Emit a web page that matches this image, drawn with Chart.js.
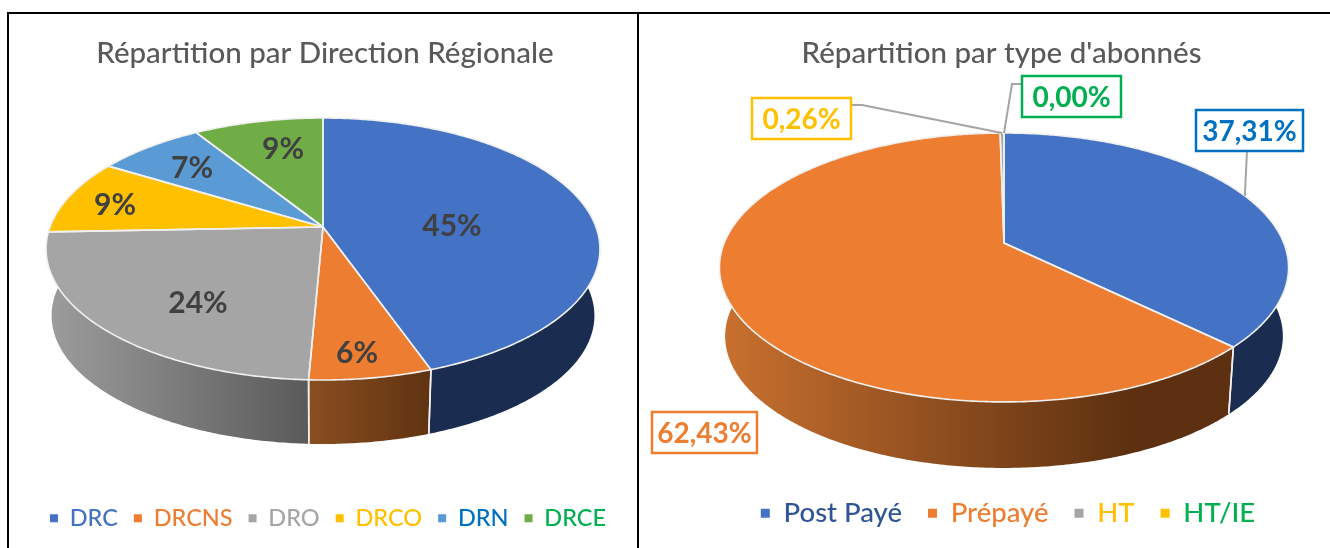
<!DOCTYPE html>
<html><head><meta charset="utf-8">
<script src="https://cdn.jsdelivr.net/npm/chart.js@4/dist/chart.umd.js"></script>
<style>
html,body{margin:0;padding:0;background:#fff;width:1330px;height:548px;overflow:hidden}
.line{position:absolute;background:#000}
canvas{position:absolute;top:0}
</style></head><body>
<div class="line" style="left:7px;top:12px;width:1323px;height:2px"></div>
<div class="line" style="left:7px;top:12px;width:2px;height:536px"></div>
<div class="line" style="left:637px;top:12px;width:2px;height:536px"></div>
<canvas id="c1" width="650" height="548" style="left:0"></canvas>
<canvas id="c2" width="690" height="548" style="left:640px"></canvas>
<script>
const FONT = 'Lato, "Open Sans", sans-serif';

// ---- data ----
const regionCategories = ['DRC','DRCNS','DRO','DRCO','DRN','DRCE'];
const regionValues     = [44.6, 6.1, 23.7, 9.3, 7.4, 8.9];
const regionColors     = ['#4472C4','#ED7D31','#A5A5A5','#FFC000','#5B9BD5','#70AD47'];
const regionText       = ['#4472C4','#ED7D31','#A5A5A5','#FFC000','#0070C0','#00B050'];

const typeCategories = ['Post Payé','Prépayé','HT','HT/IE'];
const typeValues     = [37.31, 62.43, 0.26, 0.00];
const typeColors     = ['#4472C4','#ED7D31','#A5A5A5','#FFC000'];
const typeText       = ['#2F5597','#ED7D31','#FFC000','#00B050'];

// ---- look ----
const regionSides = [['#1A2D50','#1A2D50'],['#8A4E20','#5F3311'],['#9C9C9C','#5A5A5A'],['#FFC000','#FFC000'],['#5B9BD5','#5B9BD5'],['#70AD47','#70AD47']];
const typeSides   = [['#1A2D50','#1A2D50'],['#C8702F','#5C3010'],['#A5A5A5','#A5A5A5'],['#FFC000','#FFC000']];
const regionLabelPos = [[452,226],[357,353],[198,303],[115,205],[192,168],[283,149]];
const typeLabelBoxes = [
  {x:1196,y:110,w:107,h:41,color:'#0070C0',path:[[1247,151]]},
  {x:652,y:412,w:105,h:41,color:'#ED7D31',path:null},
  {x:752,y:98,w:99,h:41,color:'#FFC000',path:[[851,105],[862,105]]},
  {x:1022,y:76,w:99,h:41,color:'#00B050',path:[[1022,84],[1012,84]]}
];

function pie3dPlugin(geo){
  // perspective view of a flat disc: v>0 is nearer to the viewer
  const top = (a)=>{
    const u=Math.cos(a), v=Math.sin(a), w=1-geo.q*v;
    return [geo.cx+geo.b*u/w, geo.cy+geo.a*v/w];
  };
  const low = (a)=>{
    const p=top(a);
    return [geo.cx+geo.s*(p[0]-geo.cx), geo.ey2+geo.s*(p[1]-geo.ey)];
  };
  const steps=(s,e)=>Math.max(2,Math.ceil((e-s)/0.01));
  const WALL_FROM=-0.1, WALL_TO=Math.PI+0.1;
  return {
    id:'pie3d',
    beforeDraw(chart){
      const l=chart.legend;
      if(l && !l.$wrapped){
        const d=l.draw.bind(l), dx=geo.legendDx||0;
        l.draw=function(){chart.ctx.save();chart.ctx.translate(dx,0);d();chart.ctx.restore();};
        l.$wrapped=true;
      }
    },
    beforeDatasetDraw(chart,args){
      const ctx=chart.ctx, els=args.meta.data;
      ctx.save();
      ctx.lineJoin='round';
      // side walls: only the near half of the disc shows a wall
      els.forEach((el,i)=>{
        let s=Math.max(el.startAngle,WALL_FROM), e=el.endAngle;
        if(e-s<=0 || s>Math.PI-0.2) return;
        e = e>Math.PI-0.2 ? WALL_TO : e;
        const n=steps(s,e);
        ctx.beginPath();
        for(let k=0;k<=n;k++){const p=top(s+(e-s)*k/n); k?ctx.lineTo(p[0],p[1]):ctx.moveTo(p[0],p[1]);}
        for(let k=n;k>=0;k--){const p=low(s+(e-s)*k/n); ctx.lineTo(p[0],p[1]);}
        ctx.closePath();
        const g=ctx.createLinearGradient(geo.grad[i][0]-geo.ox,0,geo.grad[i][1]-geo.ox,0);
        g.addColorStop(0,geo.sides[i][0]); g.addColorStop(1,geo.sides[i][1]);
        ctx.fillStyle=g; ctx.fill();
      });
      // wall separators
      els.forEach(el=>{
        [el.startAngle,el.endAngle].forEach(a=>{
          if(Math.sin(a)<=0.05) return;
          const p=top(a),q=low(a);
          ctx.beginPath();ctx.moveTo(p[0],p[1]);ctx.lineTo(q[0],q[1]);
          ctx.strokeStyle=el.options.borderColor;ctx.lineWidth=el.options.borderWidth;ctx.stroke();
        });
      });
      // top faces
      els.forEach(el=>{
        const s=el.startAngle,e=el.endAngle; if(e-s<=0) return;
        const n=steps(s,e);
        ctx.beginPath();ctx.moveTo(geo.cx,geo.cy);
        for(let k=0;k<=n;k++){const p=top(s+(e-s)*k/n);ctx.lineTo(p[0],p[1]);}
        ctx.closePath();
        ctx.fillStyle=el.options.backgroundColor;ctx.fill();
      });
      els.forEach(el=>{
        const s=el.startAngle,e=el.endAngle; if(e-s<=0) return;
        const n=steps(s,e);
        ctx.beginPath();ctx.moveTo(geo.cx,geo.cy);
        for(let k=0;k<=n;k++){const p=top(s+(e-s)*k/n);ctx.lineTo(p[0],p[1]);}
        ctx.closePath();
        ctx.strokeStyle=el.options.borderColor;ctx.lineWidth=el.options.borderWidth;ctx.stroke();
      });
      ctx.restore();
      return false;
    },
    afterDatasetsDraw(chart){
      const ctx=chart.ctx, els=chart.getDatasetMeta(0).data, vals=chart.data.datasets[0].data;
      ctx.save();
      ctx.textAlign='center';ctx.textBaseline='middle';
      if(geo.labelPos){
        ctx.font='bold '+geo.labelSize+'px '+FONT;ctx.fillStyle='#404040';
        const t=vals.reduce((a,b)=>a+b,0);
        vals.forEach((v,i)=>{
          ctx.fillText(Math.round(v/t*100)+'%',geo.labelPos[i][0]-geo.ox,geo.labelPos[i][1]);
        });
      }
      if(geo.boxes){
        vals.forEach((v,i)=>{
          const b=geo.boxes[i], el=els[i];
          if(b.path){
            const m=top((el.startAngle+el.endAngle)/2);
            ctx.beginPath();
            b.path.forEach((p,k)=>{k?ctx.lineTo(p[0]-geo.ox,p[1]):ctx.moveTo(p[0]-geo.ox,p[1]);});
            ctx.lineTo(m[0],m[1]);
            ctx.strokeStyle='#A5A5A5';ctx.lineWidth=2;ctx.stroke();
          }
          ctx.fillStyle='#fff';ctx.fillRect(b.x-geo.ox,b.y,b.w,b.h);
          ctx.strokeStyle=b.color;ctx.lineWidth=2.5;ctx.strokeRect(b.x-geo.ox,b.y,b.w,b.h);
          ctx.fillStyle=b.color;ctx.font='bold '+geo.labelSize+'px '+FONT;
          ctx.fillText(v.toFixed(2).replace('.',',')+'%',b.x-geo.ox+b.w/2,b.y+b.h/2+1);
        });
      }
      ctx.restore();
    }
  };
}

function makePie(id,title,labels,values,colors,textColors,geo,opts){
  return new Chart(document.getElementById(id),{
    type:'pie',
    data:{labels:labels,datasets:[{data:values,backgroundColor:colors,borderColor:'#F0F0F0',borderWidth:1.6}]},
    plugins:[pie3dPlugin(geo)],
    options:{
      responsive:false,animation:false,
      layout:{padding:opts.padding},
      plugins:{
        tooltip:{enabled:false},
        title:{display:true,text:title,color:'#595959',font:{family:FONT,size:opts.titleSize,weight:'500'},padding:{top:0,bottom:10}},
        legend:{
          position:'bottom',
          labels:{
            boxWidth:opts.legendBox,boxHeight:opts.legendBox,padding:opts.legendGap,
            font:{family:FONT,size:opts.legendSize,weight:'500'},
            generateLabels(chart){
              return Chart.overrides.pie.plugins.legend.labels.generateLabels(chart).map((it,i)=>{
                it.fontColor=textColors[i];it.lineWidth=0;it.strokeStyle=it.fillStyle;return it;
              });
            }
          }
        }
      }
    }
  });
}

makePie('c1','Répartition par Direction Régionale',regionCategories,regionValues,regionColors,regionText,
  {ox:0,cx:323,cy:227,a:127.3,b:273,q:0.168,s:0.98,ey:249,ey2:315.6,sides:regionSides,legendDx:3,
   grad:[[430,600],[309,430],[50,309],[0,1],[0,1],[0,1]],labelPos:regionLabelPos,labelSize:30},
  {padding:{top:36,bottom:8},titleSize:29.5,legendSize:23.5,legendGap:16,legendBox:8});

makePie('c2',"Répartition par type d'abonnés",typeCategories,typeValues,typeColors,typeText,
  {ox:640,cx:1004-640,cy:243,a:130,b:279.8,q:0.182,s:0.98,ey:267.5,ey2:336.2,sides:typeSides,legendDx:6.5,
   grad:[[1230,1290],[725,1130],[0,1],[0,1]],boxes:typeLabelBoxes,labelSize:28},
  {padding:{top:36,bottom:11,left:33},titleSize:29.5,legendSize:27.5,legendGap:26,legendBox:9});
</script>
</body></html>
